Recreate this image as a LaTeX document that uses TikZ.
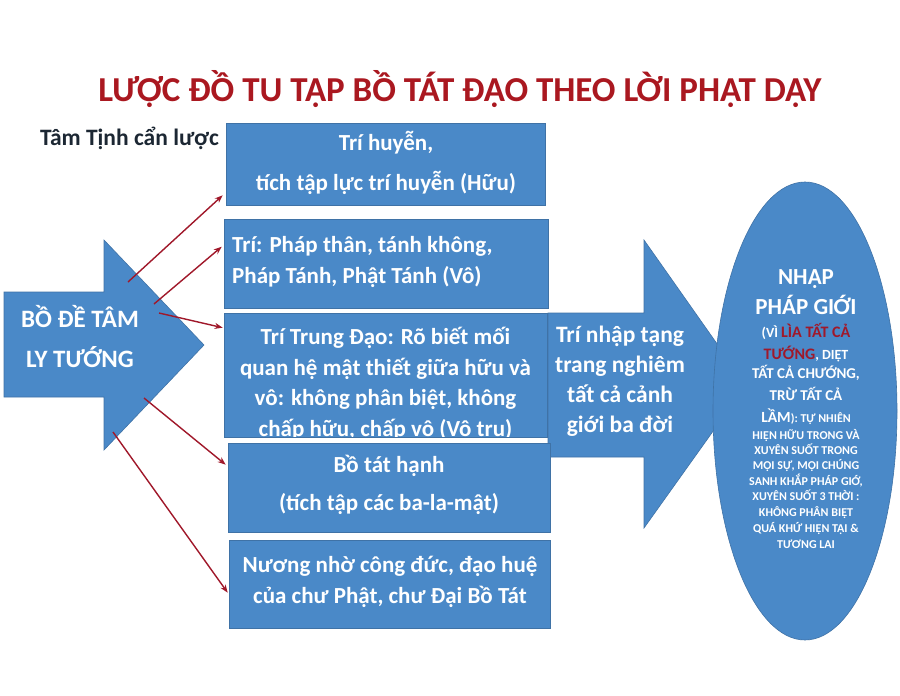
\documentclass[tikz,border=0pt]{standalone}
\usepackage{fontspec}
\setmainfont{Carlito}
\usetikzlibrary{arrows.meta,shapes.geometric}
\definecolor{boxblue}{HTML}{4A89C8}
\definecolor{edgeblue}{HTML}{3F72A6}
\definecolor{darkred}{HTML}{A0182A}
\definecolor{titlered}{HTML}{AA1820}
\definecolor{navy}{HTML}{1C2733}
\begin{document}
\begin{tikzpicture}[x=1pt,y=-1pt,
  bluefill/.style={fill=boxblue,draw=edgeblue,line width=0.6pt},
  box/.style={bluefill,rectangle,inner sep=0pt},
  btext/.style 2 args={text=white,inner sep=0pt,font=\bfseries\fontsize{#1}{#2}\selectfont,align=center,text height=14pt,text depth=4pt},
  etext/.style={text=white,inner sep=0pt,anchor=base},
  conn/.style={draw=darkred,line width=1.4pt,-{Stealth[length=8pt,width=6pt]}}]
\useasboundingbox (0,0) rectangle (900,696);
\fill[white] (0,0) rectangle (900,696);

% title
\node[anchor=base,text=titlered,font=\bfseries\fontsize{35}{38}\selectfont,inner sep=0pt] (title) at (460,101) {LƯỢC ĐỒ TU TẬP BỒ TÁT ĐẠO THEO LỜI PHẬT DẠY};
\node[anchor=base west,text=navy,font=\bfseries\fontsize{23.5}{26}\selectfont,inner sep=0pt] (author) at (40,145) {Tâm Tịnh cẩn lược};

% left arrow
\path[bluefill] (4,292) -- (104,292) -- (104,240) -- (204,345) -- (104,450) -- (104,397) -- (4,397) -- cycle;
\node[btext={25}{40}] (bode) at (80,362.6) {BỒ ĐỀ TÂM\\LY TƯỚNG};

% second arrow
\path[bluefill] (548,313) -- (644,313) -- (644,240) -- (746,385) -- (644,528) -- (644,457) -- (548,457) -- cycle;
\node[btext={23.5}{30}] (trinhap) at (620,427.6) {Trí nhập tạng\\trang nghiêm\\tất cả cảnh\\giới ba đời};

% boxes
\node[box,minimum width=319pt,minimum height=82pt] (b1) at (385.5,164) {};
\node[btext={23}{40}] (t1) at (386,185.6) {Trí huyễn,\\tích tập lực trí huyễn (Hữu)};

\node[box,minimum width=324pt,minimum height=89pt] (b2) at (386,263.5) {};
\node[btext={23}{31},align=left,anchor=west] (t2) at (232,278.6) {Trí: Pháp thân, tánh không,\\Pháp Tánh, Phật Tánh (Vô)};

\node[box,minimum width=323pt,minimum height=124pt,
  path picture={\node[btext={23}{30.5}] at ([yshift=-118pt]path picture bounding box.north) {Trí Trung Đạo: Rõ biết mối\\quan hệ mật thiết giữa hữu và\\vô: không phân biệt, không\\chấp hữu, chấp vô (Vô trụ)};}] (b3) at (385.5,375) {};

\node[box,minimum width=322pt,minimum height=89pt] (b4) at (389,487.5) {};
\node[btext={23}{38}] (t4) at (389,505.6) {Bồ tát hạnh\\(tích tập các ba-la-mật)};

\node[box,minimum width=321pt,minimum height=88pt] (b5) at (389.5,584) {};
\node[btext={23}{31}] (t5) at (390,598.6) {Nương nhờ công đức, đạo huệ\\của chư Phật, chư Đại Bồ Tát};

% ellipse
\node[bluefill,ellipse,inner sep=0pt,minimum width=184pt,minimum height=458pt] (ell) at (805,411) {};
\node[etext,font=\bfseries\fontsize{23}{25}\selectfont] (e1) at (806,284.4) {NHẬP};
\node[etext,font=\bfseries\fontsize{23}{25}\selectfont] (e2) at (806,314.4) {PHÁP GIỚI};
\node[etext,font=\bfseries\fontsize{14}{16}\selectfont] (e3) at (806,337) {(VÌ {\fontsize{16}{18}\selectfont\textcolor{darkred}{LÌA TẤT CẢ}}};
\node[etext,font=\bfseries\fontsize{14}{16}\selectfont] (e4) at (806,359) {{\fontsize{16}{18}\selectfont\textcolor{darkred}{TƯỚNG}}, DIỆT};
\node[etext,font=\bfseries\fontsize{15}{17}\selectfont] (e5) at (806,378.8) {TẤT CẢ CHƯỚNG,};
\node[etext,font=\bfseries\fontsize{15}{17}\selectfont] (e6) at (806,400.8) {TRỪ TẤT CẢ};
\node[etext,font=\bfseries\fontsize{12}{14}\selectfont] (e7) at (806,422.8) {{\fontsize{15.5}{17}\selectfont LẦM}): TỰ NHIÊN};
\node[etext,font=\bfseries\fontsize{12}{14}\selectfont] (e8) at (806,439.9) {HIỆN HỮU TRONG VÀ};
\node[etext,font=\bfseries\fontsize{12}{14}\selectfont] (e9) at (806,454.9) {XUYÊN SUỐT TRONG};
\node[etext,font=\bfseries\fontsize{12}{14}\selectfont] (e10) at (806,469.9) {MỌI SỰ, MỌI CHÚNG};
\node[etext,font=\bfseries\fontsize{12}{14}\selectfont] (e11) at (806,485.9) {SANH KHẮP PHÁP GIỚ,};
\node[etext,font=\bfseries\fontsize{12}{14}\selectfont] (e12) at (806,500.9) {XUYÊN SUỐT 3 THỜI :};
\node[etext,font=\bfseries\fontsize{12}{14}\selectfont] (e13) at (806,516.9) {KHÔNG PHÂN BIỆT};
\node[etext,font=\bfseries\fontsize{12}{14}\selectfont] (e14) at (806,532.9) {QUÁ KHỨ HIỆN TẠI \&};
\node[etext,font=\bfseries\fontsize{12}{14}\selectfont] (e15) at (806,548.9) {TƯƠNG LAI};

% connectors
\coordinate (s1) at (128,282);
\coordinate (s2) at (154,304);
\coordinate (s3) at (159,313);
\coordinate (s4) at (144,398);
\coordinate (s5) at (113,432);
\draw[conn] (s1) -- ([xshift=-3pt,yshift=10pt]b1.south west);
\draw[conn] (s2) -- ([xshift=-2pt,yshift=-28pt]b2.north west);
\draw[conn] (s3) -- ([xshift=-1pt,yshift=-15pt]b3.north west);
\draw[conn] (s4) -- ([xshift=-2pt,yshift=-22pt]b4.north west);
\draw[conn] (s5) -- ([xshift=-1pt,yshift=-53pt]b5.north west);
\end{tikzpicture}
\end{document}
